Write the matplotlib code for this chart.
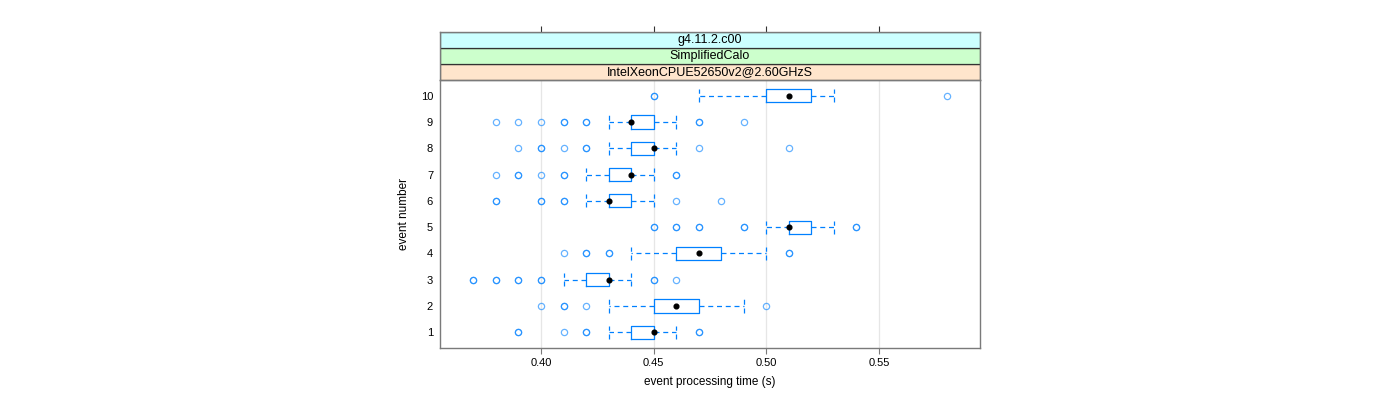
import matplotlib
matplotlib.use("Agg")
import matplotlib.pyplot as plt

plt.rcParams['font.family'] = ['Liberation Sans', 'DejaVu Sans']

# event numbers and box statistics (seconds)
events = [1, 2, 3, 4, 5, 6, 7, 8, 9, 10]
q1 = [0.44, 0.45, 0.42, 0.46, 0.51, 0.43, 0.43, 0.44, 0.44, 0.50]
med = [0.45, 0.46, 0.43, 0.47, 0.51, 0.43, 0.44, 0.45, 0.44, 0.51]
q3 = [0.45, 0.47, 0.43, 0.48, 0.52, 0.44, 0.44, 0.45, 0.45, 0.52]
whislo = [0.43, 0.43, 0.41, 0.44, 0.50, 0.42, 0.42, 0.43, 0.43, 0.47]
whishi = [0.46, 0.49, 0.44, 0.50, 0.53, 0.45, 0.45, 0.46, 0.46, 0.53]
# outliers, repeated values are overplotted points
outliers = [
    [0.39, 0.39, 0.41, 0.42, 0.42, 0.47, 0.47],
    [0.40, 0.41, 0.41, 0.42, 0.50],
    [0.37, 0.37, 0.38, 0.38, 0.39, 0.39, 0.40, 0.40, 0.45, 0.45, 0.46],
    [0.41, 0.42, 0.42, 0.43, 0.43, 0.51, 0.51],
    [0.45, 0.45, 0.46, 0.46, 0.47, 0.47, 0.49, 0.49, 0.54, 0.54],
    [0.38, 0.38, 0.40, 0.40, 0.41, 0.41, 0.46, 0.48],
    [0.38, 0.39, 0.39, 0.40, 0.41, 0.41, 0.46, 0.46],
    [0.39, 0.40, 0.40, 0.41, 0.42, 0.42, 0.47, 0.51],
    [0.38, 0.39, 0.40, 0.41, 0.41, 0.42, 0.42, 0.47, 0.47, 0.49],
    [0.45, 0.45, 0.58],
]
xticks = [0.40, 0.45, 0.50, 0.55]
strips = ['IntelXeonCPUE52650v2@2.60GHzS', 'SimplifiedCalo', 'g4.11.2.c00']
strip_colors = ['#ffe5cc', '#ccffcc', '#ccffff']

blue = '#0080ff'
frame = '#7a7a7a'
xlim = (0.3552, 0.5948)

fig = plt.figure(figsize=(14, 4), dpi=100)
ax = fig.add_axes([440 / 1400, 52 / 400, 540 / 1400, 268 / 400])

stats = []
for i in range(len(events)):
    stats.append(dict(med=med[i], q1=q1[i], q3=q3[i], whislo=whislo[i],
                      whishi=whishi[i], fliers=outliers[i]))

ax.bxp(stats, positions=events, widths=0.5, capwidths=0.5,
       orientation='horizontal', showfliers=True,
       boxprops=dict(color=blue, linewidth=0.9),
       whiskerprops=dict(color=blue, linewidth=0.9, linestyle=(0, (4, 3))),
       capprops=dict(color=blue, linewidth=0.9, linestyle=(0, (4, 3))),
       medianprops=dict(visible=False),
       flierprops=dict(marker='o', markersize=4.5, markerfacecolor='none',
                       markeredgecolor=blue, markeredgewidth=0.9, alpha=0.6))
ax.plot(med, events, 'o', color='black', markersize=3.4, zorder=5)

for x in xticks:
    ax.axvline(x, color='#e6e6e6', linewidth=0.9, zorder=0)

ax.set_xlim(*xlim)
ax.set_ylim(0.4, 10.6)
ax.set_xticks(xticks)
ax.set_xticklabels(['%.2f' % x for x in xticks])
ax.set_yticks(events)
ax.set_yticklabels([str(e) for e in events])
ax.tick_params(axis='x', length=4, color=frame, labelsize=8, pad=3)
ax.tick_params(axis='y', length=0, labelsize=8, pad=5)
for s in ax.spines.values():
    s.set_color(frame)
    s.set_linewidth(1.0)
ax.set_xlabel('event processing time (s)', fontsize=8.5, labelpad=6)
ax.set_ylabel('event number', fontsize=8.5, labelpad=8)

# strips
sax = fig.add_axes([440 / 1400, 320 / 400, 540 / 1400, 48 / 400])
sax.set_xlim(*xlim)
sax.set_ylim(0, 3)
for i, (txt, col) in enumerate(zip(strips, strip_colors)):
    sax.axhspan(i, i + 1, facecolor=col, edgecolor='#333333', linewidth=0.9)
    sax.text(sum(xlim) / 2, i + 0.5, txt, ha='center', va='center', fontsize=9)
sax.set_yticks([])
sax.set_xticks(xticks)
sax.xaxis.tick_top()
sax.tick_params(axis='x', length=4, color='#333333', labeltop=False, labelbottom=False)
for s in sax.spines.values():
    s.set_color(frame)
    s.set_linewidth(1.0)

fig.savefig('out.png', dpi=100)
